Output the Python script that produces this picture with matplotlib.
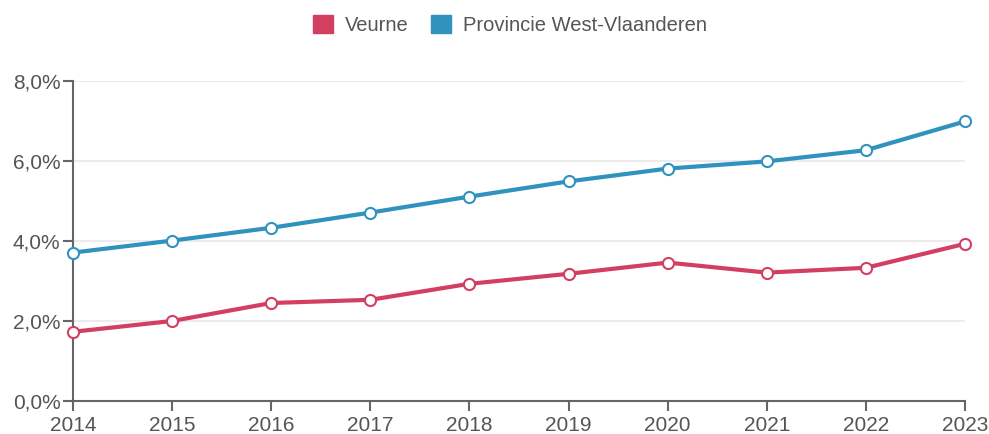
import matplotlib.pyplot as plt
from matplotlib.patches import Patch
from matplotlib.ticker import FuncFormatter

years = [2014, 2015, 2016, 2017, 2018, 2019, 2020, 2021, 2022, 2023]
veurne = [1.73, 2.00, 2.45, 2.53, 2.93, 3.18, 3.46, 3.21, 3.33, 3.93]
west_vlaanderen = [3.71, 4.01, 4.33, 4.71, 5.11, 5.49, 5.81, 5.99, 6.27, 6.99]
yticks = [0, 2, 4, 6, 8]

RED = "#d33f61"
BLUE = "#2f93bd"
GREY = "#666666"

plt.rcParams["font.family"] = ["Liberation Sans", "DejaVu Sans"]

fig = plt.figure(figsize=(9.89, 4.34), dpi=100)
ax = fig.add_axes([73 / 989, 1 - 401 / 434, (965 - 73) / 989, (401 - 81) / 434])

for vals, col in [(veurne, RED), (west_vlaanderen, BLUE)]:
    ax.plot(years, vals, color=col, lw=3, marker="o", ms=8,
            markerfacecolor="white", markeredgecolor=col, markeredgewidth=1.5,
            clip_on=False, zorder=3)

ax.set_xlim(2014, 2023)
ax.set_ylim(0, 8)
ax.set_xticks(years)
ax.set_yticks(yticks)
ax.yaxis.set_major_formatter(FuncFormatter(lambda v, p: f"{v:.1f}%".replace(".", ",")))

ax.grid(axis="y", color="#ececec", lw=1.5, zorder=0)
for s in ["top", "right"]:
    ax.spines[s].set_visible(False)
for s in ["left", "bottom"]:
    ax.spines[s].set_color(GREY)
    ax.spines[s].set_linewidth(1.5)
ax.tick_params(colors=GREY, labelcolor="#555555", labelsize=15, width=1.5, length=7)
ax.tick_params(axis="y", pad=2)
ax.tick_params(axis="x", pad=4)

handles = [Patch(color=RED, label="Veurne"),
           Patch(color=BLUE, label="Provincie West-Vlaanderen")]
fig.legend(handles=handles, loc="center", bbox_to_anchor=(510 / 989, 1 - 25 / 434),
           ncol=2, frameon=False, fontsize=14.5, labelcolor="#555555",
           handlelength=1.0, handleheight=1.0, handletextpad=0.6, columnspacing=1.1)

fig.savefig("out.png", dpi=100)
